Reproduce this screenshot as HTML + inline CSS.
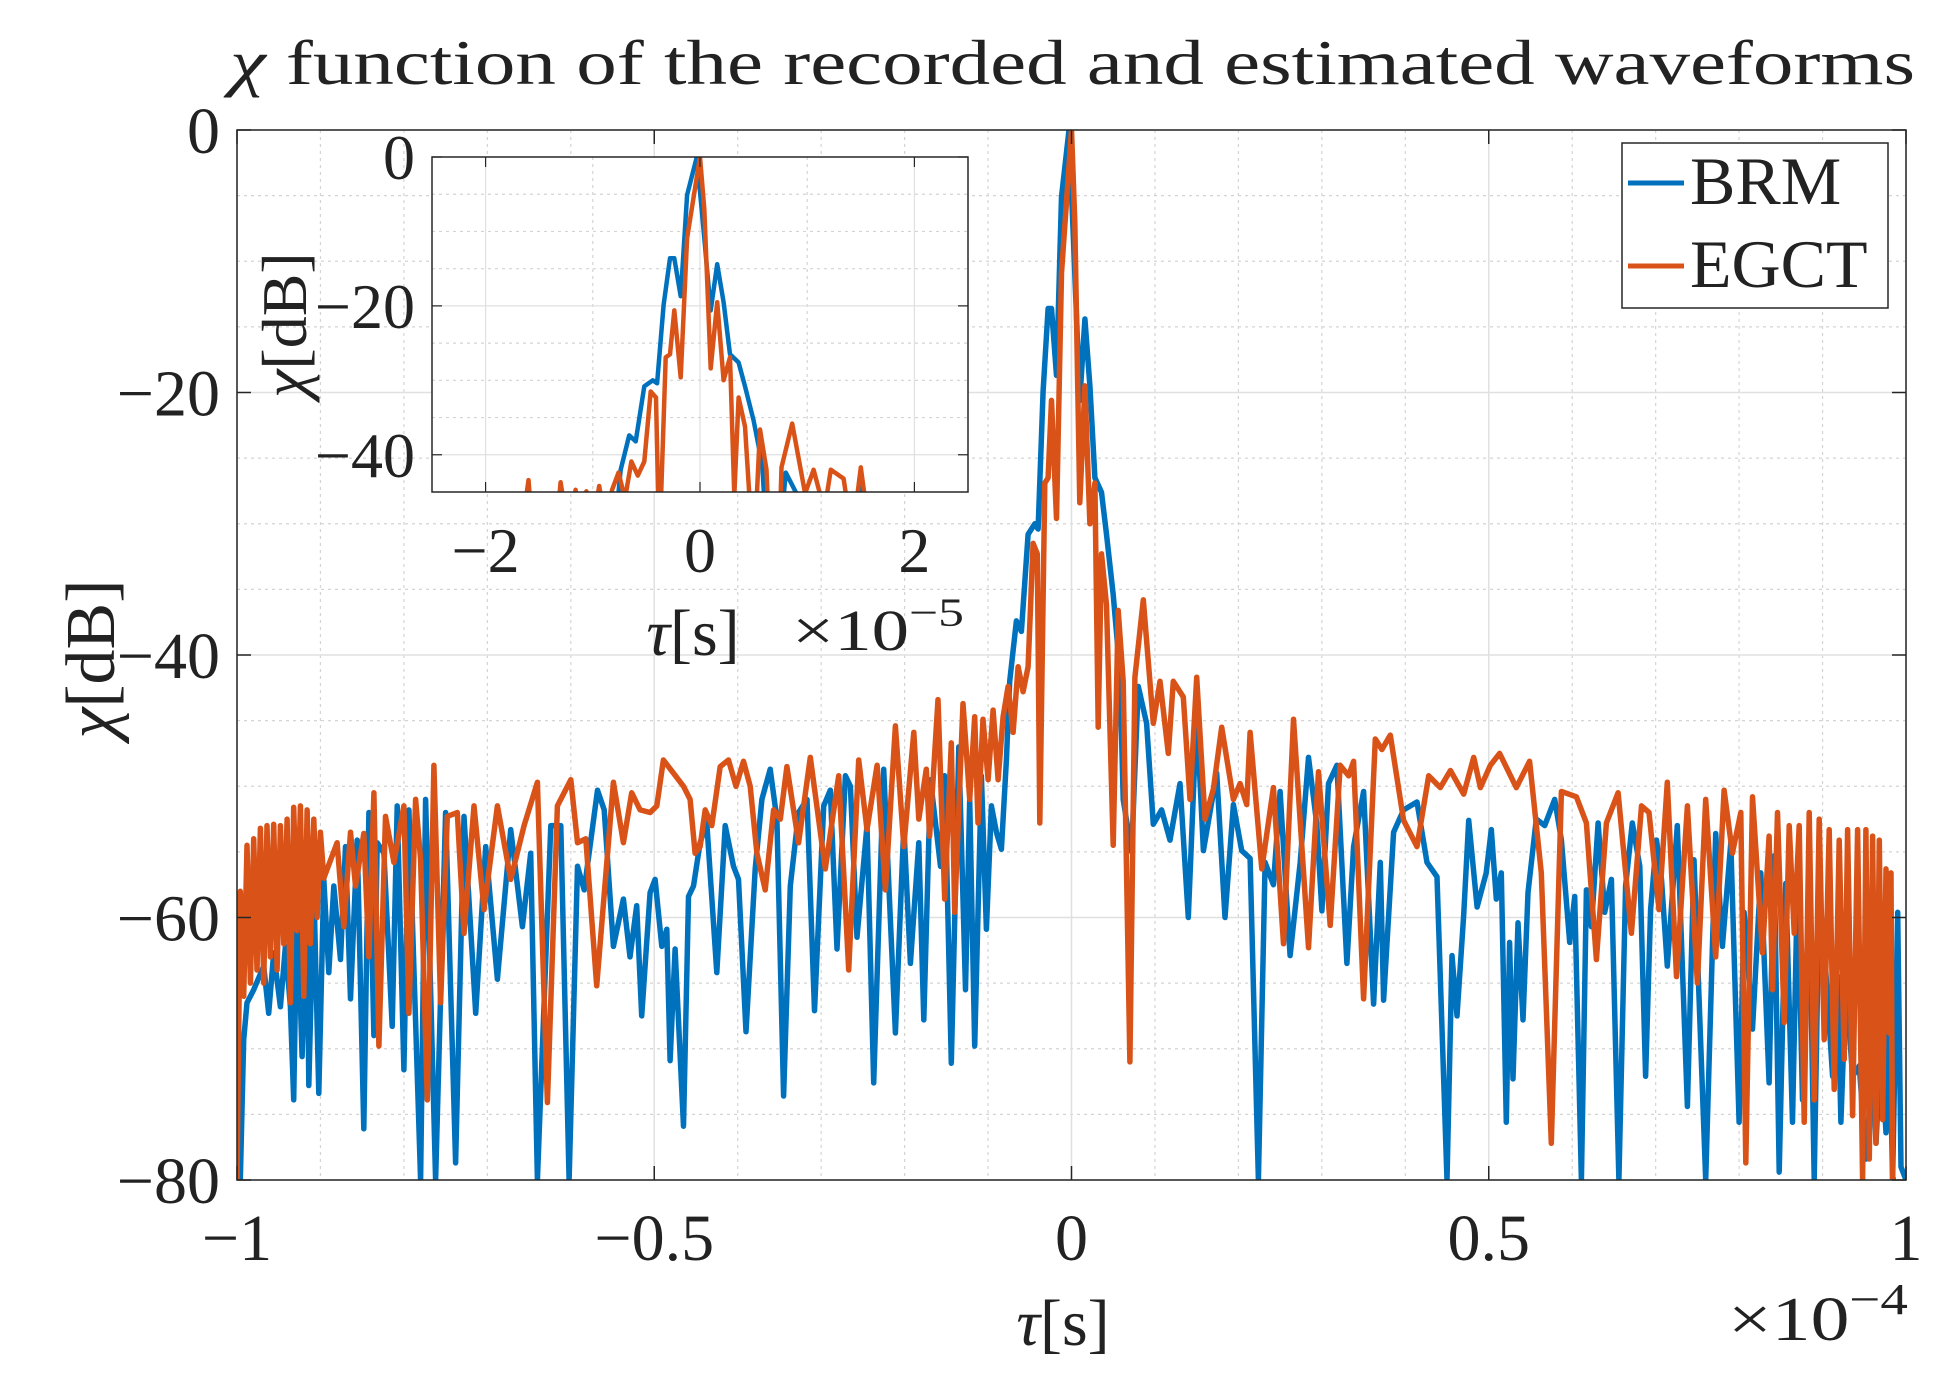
<!DOCTYPE html>
<html><head><meta charset="utf-8"><style>
html,body{margin:0;padding:0;background:#fff;}
svg text{font-family:"Liberation Serif",serif;fill:#222;}
</style></head><body>
<svg id="chart" width="1954" height="1390" viewBox="0 0 1954 1390" xmlns="http://www.w3.org/2000/svg">
<defs>
<clipPath id="mainClip"><rect x="237" y="130" width="1669" height="1050"/></clipPath>
<clipPath id="insetClip"><rect x="432" y="157" width="536" height="335"/></clipPath>
</defs>
<rect x="0" y="0" width="1954" height="1390" fill="#fff"/>
<text x="230" y="84" font-size="64" textLength="1685" lengthAdjust="spacingAndGlyphs"><tspan font-style="italic">χ</tspan> function of the recorded and estimated waveforms</text>
<rect x="237" y="130" width="1669" height="1050" fill="#fff"/>
<g id="mainGrid"></g>
<g id="mainSeries" clip-path="url(#mainClip)"></g>
<rect x="237" y="130" width="1669" height="1050" fill="none" stroke="#262626" stroke-width="1.5"/>
<g id="mainTicks"></g>
<text x="1063" y="1345" font-size="66" text-anchor="middle"><tspan font-style="italic">τ</tspan>[s]</text>
<text x="1728" y="1340" font-size="62" textLength="180" lengthAdjust="spacingAndGlyphs">×10<tspan font-size="44" dy="-26">−4</tspan></text>
<text transform="translate(114,659) rotate(-90)" font-size="70" text-anchor="middle"><tspan font-style="italic">χ</tspan>[dB]</text>
<g>
<rect x="1622" y="143" width="266" height="165" fill="#fff" stroke="#262626" stroke-width="1.5"/>
<line x1="1628" y1="183" x2="1684" y2="183" stroke="#0072BD" stroke-width="5"/>
<text x="1690" y="204" font-size="68">BRM</text>
<line x1="1628" y1="266" x2="1684" y2="266" stroke="#D95319" stroke-width="5"/>
<text x="1690" y="287" font-size="68">EGCT</text>
</g>
<rect x="432" y="157" width="536" height="335" fill="#fff"/>
<g id="insetGrid"></g>
<g id="insetSeries" clip-path="url(#insetClip)"></g>
<rect x="432" y="157" width="536" height="335" fill="none" stroke="#262626" stroke-width="1.5"/>
<g id="insetTicks"></g>
<text x="693" y="655" font-size="66" text-anchor="middle"><tspan font-style="italic">τ</tspan>[s]</text>
<text x="792" y="650" font-size="58" textLength="172" lengthAdjust="spacingAndGlyphs">×10<tspan font-size="40" dy="-24">−5</tspan></text>
<text transform="translate(306,325) rotate(-90)" font-size="64" text-anchor="middle"><tspan font-style="italic">χ</tspan>[dB]</text>
</svg>
<script>
// tau in units of 1e-4 s, values in dB
const brmTau = [-1,-0.996,-0.992,-0.988,-0.98,-0.968,-0.962,-0.956,-0.948,-0.942,-0.936,-0.932,-0.928,-0.922,-0.916,-0.914,-0.908,-0.902,-0.896,-0.89,-0.884,-0.876,-0.87,-0.864,-0.856,-0.848,-0.842,-0.836,-0.832,-0.824,-0.814,-0.808,-0.8,-0.794,-0.78,-0.774,-0.762,-0.75,-0.738,-0.728,-0.714,-0.702,-0.688,-0.672,-0.658,-0.648,-0.64,-0.624,-0.612,-0.602,-0.592,-0.584,-0.568,-0.56,-0.549,-0.537,-0.529,-0.521,-0.515,-0.505,
-0.499,-0.491,-0.485,-0.481,-0.475,-0.465,-0.459,-0.453,-0.445,-0.437,-0.425,-0.415,-0.405,-0.399,-0.39,-0.379,-0.371,-0.361,-0.353,-0.345,-0.337,-0.327,-0.317,-0.308,-0.297,-0.289,-0.281,-0.271,-0.265,-0.257,-0.245,-0.237,-0.225,-0.211,-0.201,-0.193,-0.183,-0.177,-0.169,-0.157,-0.152,-0.144,-0.135,-0.127,-0.122,-0.116,-0.108,-0.102,-0.096,-0.09,-0.084,-0.078,
-0.074,-0.066,-0.06,-0.052,-0.044,-0.04,-0.034,-0.028,-0.024,-0.018,-0.012,-0.003,0.004,0.01,0.016,0.022,0.028,0.036,0.042,0.05,0.058,0.062,0.072,0.08,0.09,0.098,0.108,0.118,0.13,0.14,0.15,0.158,0.174,0.184,0.194,0.204,0.214,
0.224,0.232,0.242,0.25,0.262,0.274,0.284,0.294,0.3,0.308,0.318,0.33,0.338,0.35,0.362,0.37,0.374,0.386,0.398,0.414,0.426,0.438,0.45,0.456,0.462,0.47,0.476,0.486,0.497,
0.503,0.509,0.515,0.521,0.525,0.529,0.535,0.541,0.547,0.557,0.567,0.579,0.587,0.597,0.603,0.611,0.617,0.623,0.631,0.639,0.647,0.656,0.664,0.672,0.681,0.688,0.694,0.701,0.707,0.714,0.726,0.738,0.746,0.76,0.772,0.78,0.79,0.8,0.806,0.816,0.826,0.836,0.842,0.848,0.856,0.864,0.87,0.876,0.884,0.89,0.896,0.904,0.912,0.918,0.922,0.928,0.936,0.944,0.952,0.96,0.964,0.97,0.976,0.98,0.984,0.99,0.994,1.0];
const brmDb = [-80,-80,-69.3,-66.5,-65.5,-63.7,-67.3,-62.7,-66.8,-62.2,-66.8,-73.9,-58.6,-70.6,-59.1,-72.8,-57.6,-73.4,-57.1,-64.2,-57.6,-63.2,-54.6,-66.2,-54.1,-76.1,-52,-69,-54.3,-55.1,-68.3,-51.5,-71.6,-51.8,-80,-51,-80,-52,-78.7,-52.3,-67.3,-54.6,-64.7,-53.3,-60.7,-55.1,-80,-53,-53,-80,-56.1,-57.9,-50.3,-51.8,-62.2,-58.6,-63,-59.1,-67.5,-58.1,
-57.1,-62.2,-60.9,-70.9,-62.4,-75.9,-58.4,-57.6,-54.3,-52.8,-64.2,-53,-56.1,-57.1,-68.7,-56.3,-51,-48.7,-52.5,-73.6,-57.6,-52,-51,-67.1,-51.5,-50.3,-62.4,-49.2,-50,-61.5,-53,-72.6,-48.7,-68.8,-53,-63.5,-54.3,-67.8,-49.5,-56.1,-49.2,-71.1,-47,-65.5,-51,-69.8,-49.2,-60.9,-51.5,-53.5,-54.8,-48,
-42,-37.4,-38.2,-30.8,-30,-30.4,-19.9,-13.6,-13.6,-18.7,-5.1,0,-10.9,-20.6,-14.4,-19.5,-26.5,-27.6,-30.8,-35.4,-41.3,-51,-55,-42.4,-45.2,-52.9,-51.8,-54.1,-49.8,-60,-44.4,-54.9,-49,-60,-51.4,-54.9,-55.5,
-80,-55.8,-57.5,-50.4,-62.9,-55.8,-47.8,-52.9,-59.5,-49.8,-48.4,-63.5,-54.6,-50.4,-66.6,-55.8,-66.3,-53.5,-51.8,-51.2,-55.8,-56.9,-80,-62.9,-67.5,-59.8,-52.6,-59.2,-56.6,
-53.3,-58.6,-56.6,-75.6,-61.9,-72.3,-60.4,-67.8,-58.1,-52.5,-53,-51,-54.1,-61.9,-58.4,-80,-57.9,-60.7,-52.8,-59.6,-57.1,-80,-57.6,-52.8,-56.1,-72.1,-59.4,-54.1,-57.1,-63.7,-53,-74.4,-55.6,-80,-53.6,-62.2,-54.3,-75.6,-59.6,-68.5,-56.6,-72.6,-55.3,-79.4,-57.4,-75.6,-57.1,-73.9,-57.6,-80,-57.9,-64.2,-72.1,-64.5,-75.6,-65,-72.1,-71.3,-78.4,-71.3,-77.2,-69.3,-76.4,-67.8,-80,-59.6,-79,-80];

const egctTau = [-1,-0.996,-0.992,-0.988,-0.984,-0.98,-0.976,-0.972,-0.968,-0.964,-0.96,-0.956,-0.952,-0.948,-0.944,-0.94,-0.936,-0.932,-0.928,-0.924,-0.92,-0.916,-0.912,-0.908,-0.904,-0.9,-0.896,-0.88,-0.872,-0.864,-0.858,-0.848,-0.842,-0.836,-0.83,-0.822,-0.812,-0.8,-0.794,-0.786,-0.78,-0.772,-0.764,-0.756,-0.748,-0.736,-0.728,-0.716,-0.704,-0.688,-0.672,-0.656,-0.64,-0.628,-0.616,-0.6,-0.592,-0.582,-0.569,-0.549,-0.537,-0.527,-0.517,-0.505,
-0.497,-0.489,-0.477,-0.465,-0.457,-0.451,-0.445,-0.439,-0.431,-0.421,-0.411,-0.402,-0.393,-0.385,-0.377,-0.367,-0.357,-0.349,-0.341,-0.327,-0.313,-0.295,-0.279,-0.267,-0.255,-0.245,-0.233,-0.223,-0.211,-0.201,-0.189,-0.183,-0.174,-0.17,-0.16,-0.152,-0.144,-0.14,-0.13,-0.122,-0.116,-0.112,-0.106,-0.1,-0.094,-0.088,-0.082,
-0.076,-0.07,-0.064,-0.058,-0.052,-0.046,-0.041,-0.038,-0.032,-0.028,-0.024,-0.018,-0.012,0,0.004,0.01,0.016,0.022,0.028,0.032,0.036,0.042,0.05,0.056,0.062,0.07,0.076,0.086,0.098,0.106,0.116,0.122,0.134,0.142,0.15,0.16,0.17,0.18,0.194,0.202,0.21,
0.214,0.228,0.242,0.254,0.266,0.284,0.296,0.31,0.322,0.332,0.338,0.35,0.364,0.372,0.382,0.398,0.414,0.428,0.442,0.454,0.47,0.482,0.49,0.502,
0.513,0.533,0.549,0.563,0.575,0.587,0.605,0.617,0.629,0.641,0.655,0.671,0.683,0.692,0.704,0.714,0.725,0.738,0.75,0.76,0.772,0.782,0.792,0.802,0.808,0.816,0.828,0.836,0.84,0.846,0.854,0.86,0.866,0.872,0.878,0.884,0.89,0.896,0.902,0.908,0.914,0.92,0.926,0.93,0.936,0.942,0.948,0.952,0.956,0.96,0.964,0.968,0.972,0.976,0.98,0.982,0.984,0.988];
const egctDb = [-80,-58,-66,-54.5,-65,-54,-64,-53.2,-65,-53,-63,-52.9,-64,-53,-62,-52.5,-66.5,-51.6,-61,-51.5,-66,-51.8,-62,-52.5,-60,-53.5,-57,-54.3,-60.7,-53.5,-57.6,-53.6,-63,-50.5,-69.8,-52.3,-55.8,-51.5,-67.3,-51,-55.6,-73.9,-48.4,-66.5,-52.3,-52,-61.2,-51.5,-59.4,-51.5,-57.1,-53,-49.7,-74.1,-51.5,-49.5,-54.3,-54,-65.2,-49.7,-54.3,-50.5,-51.8,-52,
-51.5,-48,-49,-50,-51,-55.1,-54.6,-51.8,-53,-48.5,-48,-50,-48.1,-50,-55.1,-57.9,-51.8,-52.5,-48.5,-54.3,-47.8,-56.3,-49.2,-64,-48,-53.3,-48.4,-57.9,-45.4,-54.6,-45.9,-52.5,-48.7,-53.8,-43.4,-58.6,-46.7,-59.6,-43.7,-51,-44.7,-52.8,-44.9,-49.5,-44.2,-49.5,-44.7,
-42.4,-45.9,-40.9,-42.8,-40.9,-31.5,-32.3,-52.8,-26.9,-26.5,-20.6,-29.6,-10.9,0,-7,-28.4,-19.5,-30,-26.9,-45.5,-32.3,-36.2,-54.5,-36.6,-42,-71,-41.7,-35.8,-45.2,-42,-47.5,-42,-43.2,-51,-41.7,-52.5,-50.2,-45.5,-51,-49.8,-51.4,
-45.9,-56.3,-50.1,-62,-44.9,-62.3,-48.9,-60.6,-48.4,-49.2,-48.1,-66.2,-46.4,-47.2,-46.1,-52.6,-54.6,-49.2,-50.1,-48.8,-50.6,-47.8,-50.1,-48.4,
-47.5,-50.1,-48.1,-56.6,-77.2,-50.4,-50.8,-52.8,-63.2,-52.8,-50.5,-61.2,-51.5,-52,-59.4,-49.7,-64.5,-51.5,-65,-51,-63,-50.3,-55.1,-52,-78.7,-50.8,-62.7,-53.8,-65.5,-52,-68,-53,-61.2,-53,-75.6,-52,-73.9,-52.5,-69.3,-53.3,-73.1,-54.1,-70.8,-53.3,-75.1,-53.3,-80,-53.3,-78.4,-53.8,-77.2,-54.1,-75.4,-56.3,-68.8,-56.6,-80,-80];

const mainYTicks = [0,-20,-40,-60,-80];
const mainYTickLabels = ["0","−20","−40","−60","−80"];
const mainXTicks = [-1,-0.5,0,0.5,1];
const mainXTickLabels = ["−1","−0.5","0","0.5","1"];
const insetYTicks = [0,-20,-40];
const insetYTickLabels = ["0","−20","−40"];
const insetXTicks = [-2,0,2];
const insetXTickLabels = ["−2","0","2"];

const NS = "http://www.w3.org/2000/svg";
const MX0=237, MX1=1906, MY0=130, MY1=1180;
function mx(t){ return MX0 + (t+1)/2*(MX1-MX0); }
function my(d){ return MY0 + (-d)/80*(MY1-MY0); }
const IX0=432, IX1=968, IY0=157, IY1=492;
function ix(t5){ return IX0 + (t5+2.5)/5*(IX1-IX0); }
function iy(d){ return IY0 + (-d)/45*(IY1-IY0); }

function mk(tag, attrs, parent){
  const e=document.createElementNS(NS,tag);
  for(const k in attrs) e.setAttribute(k,attrs[k]);
  parent.appendChild(e); return e;
}
const mg=document.getElementById('mainGrid');
for(let i=-10;i<=10;i++){
  const t=i/10; if(i%5===0) continue;
  const l=mk('line',{x1:mx(t),x2:mx(t),y1:MY0,y2:MY1,stroke:'#d4d4d4','stroke-width':1.2,'stroke-dasharray':'3,4'},mg);
  
  
}
for(let d=-75;d<0;d+=5){
  if(d%20===0) continue;
  const l=mk('line',{x1:MX0,x2:MX1,y1:my(d),y2:my(d),stroke:'#d4d4d4','stroke-width':1.2,'stroke-dasharray':'3,4'},mg);
  
  
}
mainXTicks.forEach(t=>{
  const l=mk('line',{x1:mx(t),x2:mx(t),y1:MY0,y2:MY1,stroke:'#e0e0e0','stroke-width':1.5},mg);
  
  
});
mainYTicks.forEach(d=>{
  const l=mk('line',{x1:MX0,x2:MX1,y1:my(d),y2:my(d),stroke:'#e0e0e0','stroke-width':1.5},mg);
  
  
});
const mt=document.getElementById('mainTicks');
mainXTicks.forEach((t,i)=>{
  mk('line',{x1:mx(t),x2:mx(t),y1:MY1,y2:MY1-14,stroke:'#262626','stroke-width':1.5},mt);
  mk('line',{x1:mx(t),x2:mx(t),y1:MY0,y2:MY0+14,stroke:'#262626','stroke-width':1.5},mt);
  const tx=mk('text',{x:mx(t),y:1260,'font-size':66,'text-anchor':'middle'},mt);
  tx.textContent=mainXTickLabels[i];
  
  
});
mainYTicks.forEach((d,i)=>{
  mk('line',{x1:MX0,x2:MX0+14,y1:my(d),y2:my(d),stroke:'#262626','stroke-width':1.5},mt);
  mk('line',{x1:MX1,x2:MX1-14,y1:my(d),y2:my(d),stroke:'#262626','stroke-width':1.5},mt);
  const tx=mk('text',{x:220,y:my(d)+23,'font-size':66,'text-anchor':'end'},mt);
  tx.textContent=mainYTickLabels[i];
  
  
});
function pathFor(tau,db,fx,fy){
  let s='';
  for(let i=0;i<tau.length;i++){ s+=(i?'L':'M')+fx(tau[i]).toFixed(1)+','+fy(db[i]).toFixed(1); }
  return s;
}
const ms=document.getElementById('mainSeries');
const pb=mk('path',{d:pathFor(brmTau,brmDb,mx,my),fill:'none',stroke:'#0072BD','stroke-width':5.5,'stroke-linejoin':'round'},ms);


const pe=mk('path',{d:pathFor(egctTau,egctDb,mx,my),fill:'none',stroke:'#D95319','stroke-width':5.5,'stroke-linejoin':'round'},ms);



const ig=document.getElementById('insetGrid');
for(let t=-2;t<=2;t+=1){
  const l=mk('line',{x1:ix(t),x2:ix(t),y1:IY0,y2:IY1,stroke:t%2===0?'#e0e0e0':'#d4d4d4','stroke-width':1.2,'stroke-dasharray':t%2===0?'none':'3,4'},ig);
  
  
}
for(let d=-40;d<0;d+=5){
  const l=mk('line',{x1:IX0,x2:IX1,y1:iy(d),y2:iy(d),stroke:d%20===0?'#e0e0e0':'#d4d4d4','stroke-width':1.2,'stroke-dasharray':d%20===0?'none':'3,4'},ig);
  
  
}
const is=document.getElementById('insetSeries');
const ib=mk('path',{d:pathFor(brmTau,brmDb,t=>ix(t*10),iy),fill:'none',stroke:'#0072BD','stroke-width':4.5,'stroke-linejoin':'round'},is);


const ie=mk('path',{d:pathFor(egctTau,egctDb,t=>ix(t*10),iy),fill:'none',stroke:'#D95319','stroke-width':4.5,'stroke-linejoin':'round'},is);


const it=document.getElementById('insetTicks');
insetXTicks.forEach((t,i)=>{
  mk('line',{x1:ix(t),x2:ix(t),y1:IY1,y2:IY1-10,stroke:'#262626','stroke-width':1.2},it);
  mk('line',{x1:ix(t),x2:ix(t),y1:IY0,y2:IY0+10,stroke:'#262626','stroke-width':1.2},it);
  const tx=mk('text',{x:ix(t),y:572,'font-size':64,'text-anchor':'middle'},it);
  tx.textContent=insetXTickLabels[i];
  
  
});
insetYTicks.forEach((d,i)=>{
  mk('line',{x1:IX0,x2:IX0+10,y1:iy(d),y2:iy(d),stroke:'#262626','stroke-width':1.2},it);
  mk('line',{x1:IX1,x2:IX1-10,y1:iy(d),y2:iy(d),stroke:'#262626','stroke-width':1.2},it);
  const tx=mk('text',{x:415,y:iy(d)+22,'font-size':64,'text-anchor':'end'},it);
  tx.textContent=insetYTickLabels[i];
  
  
});
</script>
</body></html>
